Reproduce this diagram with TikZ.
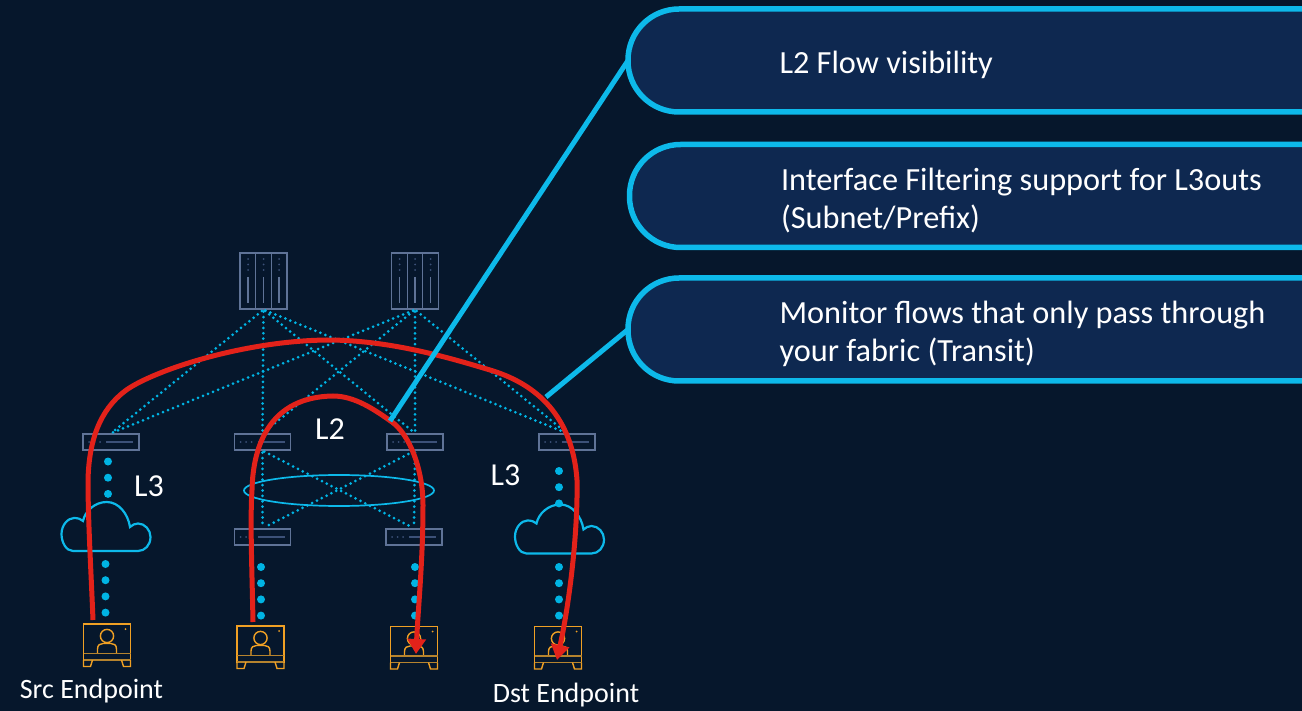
\documentclass[tikz,border=0pt]{standalone}
\usepackage{fontspec}
\setmainfont{Carlito}
\usetikzlibrary{arrows.meta,shapes.geometric}
\definecolor{bgc}{HTML}{06172C}
\definecolor{pillc}{HTML}{0E2850}
\definecolor{cyanc}{HTML}{0DB9EA}
\definecolor{dotc}{HTML}{00B4E4}
\definecolor{redc}{HTML}{E3221A}
\definecolor{devc}{HTML}{5F7397}
\definecolor{devd}{HTML}{3C5178}
\definecolor{orc}{HTML}{F0A024}
\definecolor{ord}{HTML}{B5832E}
\tikzset{
 pill/.style={draw=cyanc,fill=pillc,line width=5.5pt,outer sep=0pt,rounded corners=51pt,anchor=west,minimum height=103pt,
   text width=520pt,inner xsep=151.5pt,inner ysep=0pt,align=left,text=white,font=\fontsize{32.3}{38}\selectfont,
   execute at begin node={\spaceskip=0pt\xspaceskip=0pt\rule{0pt}{31pt}}},
 callout/.style={draw=cyanc,line width=5pt},
 lab/.style={text=white,inner sep=0pt,font=\fontsize{32}{36}\selectfont},
 caplab/.style={text=white,inner sep=0pt,font=\fontsize{28}{32}\selectfont},
 spinebox/.style={draw=devc,line width=1.4pt,minimum width=47pt,minimum height=56pt,inner sep=0pt},
 leafbox/.style={draw=devc,line width=1.4pt,minimum width=56pt,minimum height=16pt,inner sep=0pt},
 detail/.style={draw=devc,line width=1.2pt},
 dimdot/.style={fill=devd},
 link/.style={draw=dotc,line width=3pt,line cap=round,dash pattern=on 0pt off 5.4pt,shorten >=2pt,shorten <=2pt},
 bigdots/.style={draw=dotc,line width=8pt,line cap=round,dash pattern=on 0pt off 16.2pt},
 route/.style={draw=redc,line width=5pt,-{Triangle[length=15pt,width=18pt]}},
 cloudline/.style={draw=cyanc,line width=2.2pt},
 epbox/.style={draw=orc,line width=1.4pt,minimum width=47pt,minimum height=36pt,inner sep=0pt},
 epline/.style={draw=orc,line width=1.4pt},
 epband/.style={draw=ord,line width=1.8pt},
}
\newcommand{\spineicon}[3]{%
 \node[spinebox] (#1) at (#2,#3) {};
 \begin{scope}[shift={(#1.center)}]
  \draw[detail] (-7.8,-28) -- (-7.8,28) (7.8,-28) -- (7.8,28);
  \foreach \cx in {-15.5,0,15.5}{
   \foreach \cy in {-22,-16.5,-11}{\fill[dimdot] (\cx,\cy) circle (1pt);}
   \draw[detail] (\cx,-4) -- (\cx,22);
  }
 \end{scope}}
\newcommand{\leaficon}[3]{%
 \node[leafbox] (#1) at (#2,#3) {};
 \begin{scope}[shift={(#1.center)}]
  \foreach \cx in {-22,-16.5,-11}{\fill[dimdot] (\cx,0) circle (1pt);}
  \draw[draw=devd,line width=1.4pt] (-5,0) -- (22,0);
 \end{scope}}
\newcommand{\cloudicon}[3]{%
 \node[minimum width=89pt,minimum height=49pt,inner sep=0pt] (#1) at (#2,#3) {};
 \begin{scope}[shift={(#1.center)}]
  \draw[cloudline] (-33,24) .. controls (-40,24) and (-44.5,15) .. (-44.5,7)
   .. controls (-44.5,-2) and (-38,-9) .. (-32,-9)
   .. controls (-28,-9) and (-25,-8) .. (-23,-6)
   .. controls (-21,-16) and (-11,-25) .. (0.7,-25)
   .. controls (13,-25) and (22,-13) .. (24,0)
   .. controls (26,-2) and (29,-3.5) .. (32,-3.5)
   .. controls (39,-3.5) and (44.5,3) .. (44.5,10)
   .. controls (44.5,18) and (39,24) .. (32,24) -- cycle;
 \end{scope}}
\newcommand{\hosticon}[3]{%
 \node[epbox] (#1) at (#2,#3) {};
 \begin{scope}[shift={(#1.center)}]
  \draw[epline] (0,-6) circle (6.6);
  \draw[epline] (-9.5,11) -- (-9.5,7) .. controls (-9.5,3) and (-7,1.5) .. (-4,1.5) -- (4,1.5)
    .. controls (7,1.5) and (9.5,3) .. (9.5,7) -- (9.5,11);
  \draw[epband] (-23.5,11.5) -- (23.5,11.5);
  \draw[epband] (-23.5,18) -- (23.5,18);
  \fill[orc] (18.5,-13) circle (1pt);
  \draw[epline] (-23.5,18) -- (-23.5,24.5) -- (-16.5,24.5) -- (-14.5,18);
  \draw[epline] (23.5,18) -- (23.5,24.5) -- (16.5,24.5) -- (14.5,18);
 \end{scope}}
\begin{document}
\begin{tikzpicture}[x=1pt,y=-1pt]
\fill[bgc] (0,0) rectangle (1302,711);
\useasboundingbox (0,0) rectangle (1302,711);
\clip (0,0) rectangle (1302,711);

% devices
\spineicon{s1}{263.5}{281}
\spineicon{s2}{415}{281}
\leaficon{l1}{111}{442}
\leaficon{l2}{262.5}{442}
\leaficon{l3}{415}{442}
\leaficon{l4}{567}{442}
\leaficon{m1}{262.5}{537}
\leaficon{m2}{414}{537}
\cloudicon{c1}{106}{527}
\cloudicon{c2}{559.5}{529.5}
\hosticon{e1}{107}{642}
\hosticon{e2}{260.5}{644}
\hosticon{e3}{414}{644.5}
\hosticon{e4}{558}{644.5}

% dotted fabric links
\foreach \a in {s1,s2}{\foreach \b in {l1,l2,l3,l4}{\draw[link] (\a.south) -- (\b.north);}}
\draw[link] (l2.south) -- (m1.north);
\draw[link] (l2.south) -- (m2.north);
\draw[link] (l3.south) -- (m1.north);
\draw[link] (l3.south) -- (m2.north);

\node[ellipse,draw=cyanc,line width=1.7pt,minimum width=190pt,minimum height=31pt,inner sep=0pt] (ring) at (339,490.5) {};

% large dotted links
\coordinate (a1) at (108,461.5); \coordinate (a2) at (108,494.5);
\coordinate (b1) at (105.5,564); \coordinate (b2) at (105.5,613);
\coordinate (d1) at (261,567); \coordinate (d2) at (261,616);
\coordinate (f1) at (415,567); \coordinate (f2) at (415,616);
\coordinate (g1) at (559,567); \coordinate (g2) at (559,616);
\coordinate (h1) at (559,471); \coordinate (h2) at (559,504);
\draw[bigdots] (a1) -- (a2);
\draw[bigdots] (b1) -- (b2);
\draw[bigdots] (d1) -- (d2);
\draw[bigdots] (f1) -- (f2);
\draw[bigdots] (g1) -- (g2);
\draw[bigdots] (h1) -- (h2);

% red routes
\coordinate (r1s) at (93,620); \coordinate (r1e) at (557,660);
\coordinate (r2s) at (253,622); \coordinate (r2e) at (416,654);
\draw[route] (r1s) .. controls (91,570) and (88,520) .. (88,480)
  .. controls (89,440) and (100,410) .. (125,391)
  .. controls (150,372) and (240,341) .. (327,340)
  .. controls (390,340) and (450,358) .. (490,370)
  .. controls (530,382) and (572,410) .. (577,480)
  .. controls (578,530) and (570,600) .. (r1e);
\draw[route] (r2s) .. controls (252,570) and (250,520) .. (252,490)
  .. controls (253,445) and (270,397) .. (333,396)
  .. controls (355,396) and (375,410) .. (392,422)
  .. controls (410,435) and (423,470) .. (423,505)
  .. controls (423,560) and (418,610) .. (r2e);

% pills
\node[pill] (p1) at (628,60.5) {L2 Flow visibility};
\node[pill] (p2) at (629.5,196) {Interface Filtering support for L3outs\\(Subnet/Prefix)};
\node[pill] (p3) at (628,329.5) {Monitor flows that only pass through\\your fabric (Transit)};

% callouts
\coordinate (k1) at (390,421);
\coordinate (k3) at (546,397);
\draw[callout] (k1) -- (p1.west);
\draw[callout] (k3) -- (p3.west);

% labels
\node[lab] (t1) at (330,429) {L2};
\node[lab] (t2) at (149,486) {L3};
\node[lab] (t3) at (505.5,475) {L3};
\node[caplab] (t4) at (91.5,691.5) {Src Endpoint};
\node[caplab] (t5) at (566,695.5) {Dst Endpoint};
\end{tikzpicture}
\end{document}
